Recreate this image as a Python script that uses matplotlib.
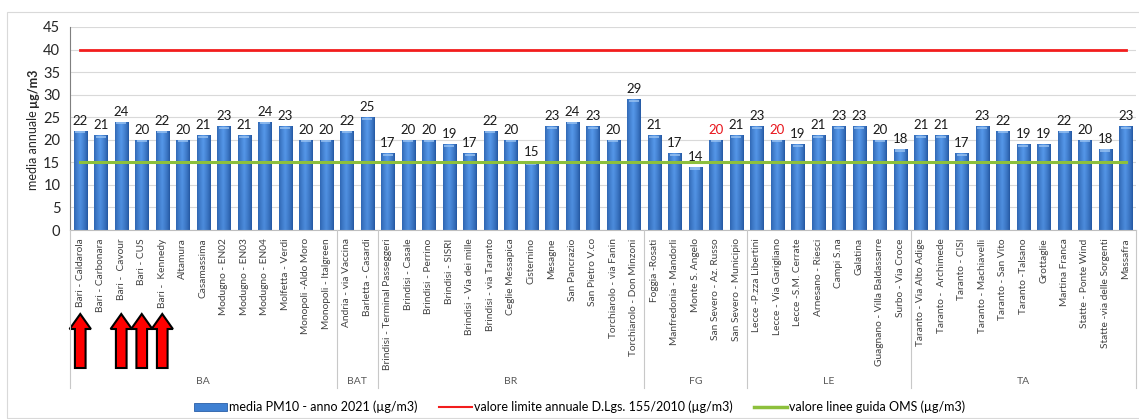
import numpy as np
import matplotlib
matplotlib.use("Agg")
import matplotlib.pyplot as plt
from matplotlib.patches import Polygon, Rectangle, Patch
from matplotlib.lines import Line2D
from matplotlib.transforms import blended_transform_factory

plt.rcParams['font.family'] = ['Lato', 'DejaVu Sans']

# --- data -------------------------------------------------------------
stations = [
    "Bari - Caldarola", "Bari - Carbonara", "Bari -  Cavour", "Bari - CUS",
    "Bari -  Kennedy", "Altamura", "Casamassima", "Modugno - EN02",
    "Modugno - EN03", "Modugno - EN04", "Molfetta - Verdi",
    "Monopoli -Aldo Moro", "Monopoli - Italgreen",
    "Andria - via Vaccina", "Barletta - Casardi",
    "Brindisi - Terminal Passeggeri", "Brindisi - Casale", "Brindisi - Perrino",
    "Brindisi - SISRI", "Brindisi - Via dei mille", "Brindisi - via Taranto",
    "Ceglie Messapica", "Cisternino", "Mesagne", "San Pancrazio",
    "San Pietro V.co", "Torchiarolo - via Fanin", "Torchiarolo - Don Minzoni",
    "Foggia -Rosati", "Manfredonia - Mandorli", "Monte S. Angelo",
    "San Severo - Az. Russo", "San Severo - Municipio",
    "Lecce -P.zza Libertini", "Lecce - Via Garigliano", "Lecce -S.M. Cerrate",
    "Arnesano - Riesci", "Campi S.na", "Galatina",
    "Guagnano - Villa Baldassarre", "Surbo - Via Croce",
    "Taranto - Via Alto Adige", "Taranto -  Archimede", "Taranto - CISI",
    "Taranto - Machiavelli", "Taranto - San Vito", "Taranto -Talsano",
    "Grottaglie", "Martina Franca", "Statte - Ponte Wind",
    "Statte -via delle Sorgenti", "Massafra",
]
pm10_2021 = [
    22, 21, 24, 20, 22, 20, 21, 23, 21, 24, 23, 20, 20,
    22, 25,
    17, 20, 20, 19, 17, 22, 20, 15, 23, 24, 23, 20, 29,
    21, 17, 14, 20, 21,
    23, 20, 19, 21, 23, 23, 20, 18,
    21, 21, 17, 23, 22, 19, 19, 22, 20, 18, 23,
]
province_names = ["BA", "BAT", "BR", "FG", "LE", "TA"]
province_sizes = [13, 2, 13, 5, 8, 11]

limit_value = 40      # D.Lgs. 155/2010 annual limit
who_guideline = 15    # WHO guideline value

red_label_stations = ["San Severo - Az. Russo", "Lecce - Via Garigliano"]
arrow_stations = ["Bari - Caldarola", "Bari -  Cavour", "Bari - CUS", "Bari -  Kennedy"]

# --- figure -----------------------------------------------------------
W, H = 1139, 419
fig = plt.figure(figsize=(W / 100, H / 100), dpi=100)
fig.patch.set_facecolor("white")

# light frame around the whole chart
fig.add_artist(Rectangle((7 / W, 0.002), 1.2, 1 - 12 / H - 0.002,
                         transform=fig.transFigure, fill=False,
                         edgecolor="#D9D9D9", lw=0.8))

ax = fig.add_axes([70 / W, 1 - 230 / H, (1136 - 70) / W, 203 / H])
n = len(stations)
x = np.arange(n)
bar_w = 0.64

bars = ax.bar(x, pm10_2021, width=bar_w, color="#2F6AB3", zorder=2)

# cylinder-like shading inside every bar
u = np.linspace(0, 1, 64)
mix_h = np.clip(1 - np.abs(u - 0.45) / 0.55, 0, 1) ** 0.7
vv = np.linspace(0, 1, 40)[:, None]
mix = mix_h[None, :] * (0.8 + 0.2 * vv)
light = np.array([0.34, 0.60, 0.92])
dark = np.array([0.13, 0.33, 0.62])
rgb = dark + (light - dark) * mix[..., None]
for b, v in zip(bars, pm10_2021):
    x0 = b.get_x()
    im = ax.imshow(rgb, extent=[x0, x0 + bar_w, 0, v], origin="lower",
                   aspect="auto", interpolation="bilinear", zorder=2.1)
    im.set_clip_path(b)
    # lighter cap at the top of the bar
    ax.add_patch(Rectangle((x0 + bar_w * 0.12, v - 0.6), bar_w * 0.76, 0.5,
                           color="#9CC4F2", alpha=0.75, lw=0, zorder=2.2))

ax.plot(x, [limit_value] * n, color="#F21D1D", lw=2.0, zorder=3)
ax.plot(x, [who_guideline] * n, color="#8DC03C", lw=2.2, zorder=3)

for xi, v, name in zip(x, pm10_2021, stations):
    col = "#E8141B" if name in red_label_stations else "#1A1A1A"
    ax.text(xi, v + 0.9, str(v), ha="center", va="bottom",
            fontsize=9.5, color=col, zorder=4)

ax.set_xlim(-0.5, n - 0.5)
ax.set_ylim(0, 45)
ax.set_yticks(np.arange(0, 46, 5))
ax.grid(axis="y", color="#D9D9D9", lw=0.8, zorder=0)
ax.set_axisbelow(True)
for s in ("top", "right"):
    ax.spines[s].set_visible(False)
ax.spines["left"].set_color("#7F7F7F")
ax.spines["bottom"].set_color("#BFBFBF")
ax.tick_params(axis="y", length=0, pad=7, labelsize=10.5, labelcolor="#262626")
ax.set_xticks(x)
ax.set_xticklabels(stations, rotation=90, fontsize=7.3, color="#404040")
ax.tick_params(axis="x", length=0, pad=6)

# province separators and names below the station labels
trans = blended_transform_factory(ax.transData, fig.transFigure)
bounds = np.concatenate([[0], np.cumsum(province_sizes)]) - 0.5
for bnd in bounds:
    fig.add_artist(Line2D([bnd, bnd], [1 - 230 / H, 1 - 388 / H],
                          transform=trans, color="#C8C8C8", lw=0.8))
for name, a, b in zip(province_names, bounds[:-1], bounds[1:]):
    fig.text((a + b) / 2, 1 - 381 / H, name, transform=trans, ha="center",
             va="center", fontsize=7.5, color="#595959")

# arrows pointing at selected stations
tip, neck, base = 1 - 314 / H, 1 - 329 / H, 1 - 368 / H
hw, sw = 0.52, 0.26
for name in arrow_stations:
    xc = stations.index(name)
    pts = [(xc, tip), (xc + hw, neck), (xc + sw, neck), (xc + sw, base),
           (xc - sw, base), (xc - sw, neck), (xc - hw, neck)]
    fig.add_artist(Polygon(pts, closed=True, transform=trans,
                           facecolor="#FF0000", edgecolor="black", lw=1.5,
                           joinstyle="miter"))

# y axis title with bold unit
t1 = fig.text(33 / W, 1 - 190 / H, "media annuale ", rotation=90,
              ha="center", va="bottom", fontsize=9, color="#262626")
fig.canvas.draw()
bb = t1.get_window_extent()
fig.text(33 / W, bb.y1 / H, "µg/m3", rotation=90, ha="center", va="bottom",
         fontsize=9, fontweight="bold", color="#262626")

handles = [
    Patch(facecolor="#3F80D2", edgecolor="#2A5FA8", lw=0.6),
    Line2D([], [], color="#F21D1D", lw=1.5),
    Line2D([], [], color="#8DC03C", lw=2.5),
]
labels = [
    "media PM10 - anno 2021 (µg/m3)",
    "valore limite annuale D.Lgs. 155/2010 (µg/m3)",
    "valore linee guida OMS (µg/m3)",
]
fig.legend(handles, labels, loc="center", bbox_to_anchor=(0.509, 1 - 407 / H),
           ncol=3, frameon=False, fontsize=9.0, handlelength=2.6,
           handletextpad=0.2, columnspacing=1.7, handleheight=0.6)

fig.savefig("out.png", dpi=100)
